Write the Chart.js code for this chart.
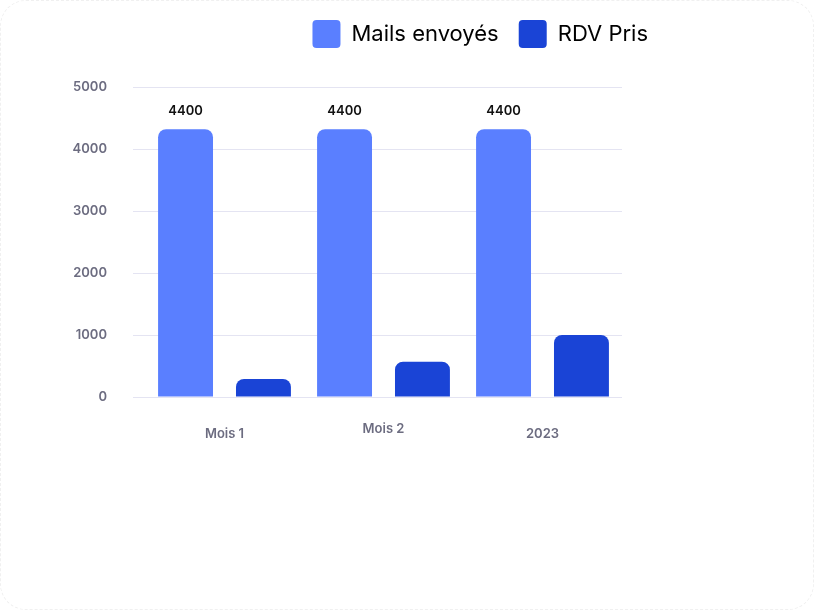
<!DOCTYPE html>
<html lang="fr">
<head>
<meta charset="utf-8">
<title>Mails envoyés / RDV Pris</title>
<script src="https://cdn.jsdelivr.net/npm/chart.js@4/dist/chart.umd.min.js"></script>
<style>
  html, body { margin: 0; padding: 0; background: #fff; }
  #card { position: relative; width: 814px; height: 610px; }
  #card .frame {
    position: absolute; inset: 0;
    border: 1px dashed #f0f0f0; border-radius: 26px;
    box-sizing: border-box;
  }
  #card canvas { position: absolute; left: 0; top: 0; }
</style>
</head>
<body>
<div id="card">
  <div class="frame"></div>
  <canvas id="barChart" width="814" height="610"></canvas>
</div>
<script>
const categories = ['Mois 1', 'Mois 2', '2023'];
const mailsEnvoyes = [4320, 4320, 4320];
const rdvPris = [290, 570, 1000];
// text shown above the blue bars, as printed on the chart
const mailsLabels = ['4400', '4400', '4400'];
const yTicks = [0, 1000, 2000, 3000, 4000, 5000];

const tickColor = '#6c6c80';
const gridColor = '#e4e4f2';

// give the legend some room below it
const legendSpace = {
    id: 'legendSpace',
    beforeInit(chart) {
        const fit = chart.legend.fit;
        chart.legend.fit = function () {
            fit.call(this);
            this.height = 87;
        };
    }
};

// numbers above the "Mails envoyés" bars
const barValueLabels = {
    id: 'barValueLabels',
    afterDatasetsDraw(chart) {
        const ctx = chart.ctx;
        const meta = chart.getDatasetMeta(0);
        ctx.save();
        ctx.font = '600 13px Inter';
        ctx.fillStyle = '#111111';
        ctx.textAlign = 'center';
        ctx.textBaseline = 'middle';
        meta.data.forEach((bar, i) => {
            ctx.fillText(mailsLabels[i], bar.x, bar.y - 18);
        });
        ctx.restore();
    }
};

const ctx = document.getElementById('barChart').getContext('2d');
new Chart(ctx, {
    type: 'bar',
    data: {
        labels: categories,
        datasets: [{
            label: 'Mails envoyés',
            data: mailsEnvoyes,
            backgroundColor: '#5a7fff',
            borderWidth: 0,
            borderRadius: 8,
            categoryPercentage: 0.98,
            barPercentage: 0.705
        }, {
            label: 'RDV Pris',
            data: rdvPris,
            backgroundColor: '#1a44d6',
            borderWidth: 0,
            borderRadius: 8,
            categoryPercentage: 0.98,
            barPercentage: 0.705
        }]
    },
    options: {
        responsive: false,
        animation: false,
        layout: {
            padding: { left: 60, right: 146, top: 0, bottom: 163 }
        },
        plugins: {
            legend: {
                display: true,
                position: 'top',
                align: 'end',
                labels: {
                    boxWidth: 28,
                    boxHeight: 28,
                    useBorderRadius: true,
                    borderRadius: 4,
                    padding: 20,
                    color: '#000000',
                    font: { family: 'Inter', size: 22, weight: '400' }
                }
            },
            tooltip: { enabled: false }
        },
        scales: {
            x: {
                grid: { display: false, drawTicks: false },
                border: { display: false },
                ticks: {
                    padding: 29,
                    color: tickColor,
                    font: c => ({
                        family: 'Inter',
                        size: 13,
                        weight: '600',
                        lineHeight: c.index === 1 ? 0.45 : 1.2
                    })
                },
                afterFit: s => { s.height = 50; }
            },
            y: {
                min: 0,
                max: 5000,
                afterBuildTicks: s => { s.ticks = yTicks.map(v => ({ value: v })); },
                grid: { color: gridColor, lineWidth: 1, drawTicks: true, tickLength: 12 },
                border: { display: false },
                ticks: {
                    padding: 26,
                    color: tickColor,
                    font: { family: 'Inter', size: 13, weight: '600' },
                    callback: v => String(v)
                },
                afterFit: s => { s.width = 85; }
            },
            yRight: {
                position: 'right',
                display: true,
                grid: { display: false, drawTicks: false },
                border: { display: false },
                ticks: { display: false },
                afterFit: s => { s.width = 46; }
            }
        }
    },
    plugins: [legendSpace, barValueLabels]
});
</script>
</body>
</html>
